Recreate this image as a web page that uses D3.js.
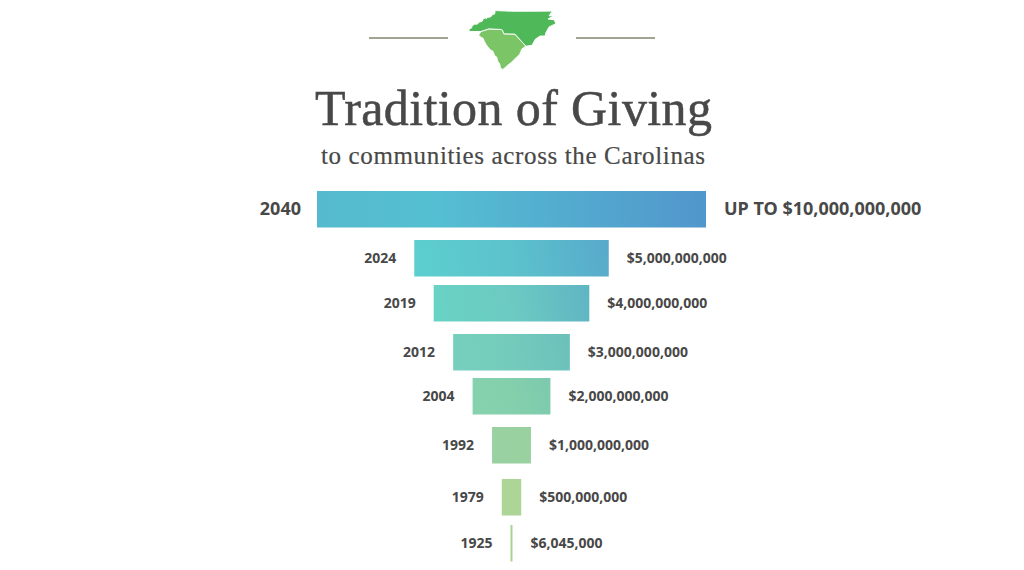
<!DOCTYPE html>
<html>
<head>
<meta charset="utf-8">
<script src="https://cdn.jsdelivr.net/npm/d3@7"></script>
<style>
  html, body { margin: 0; padding: 0; background: #fff; }
  svg { display: block; }
  text { fill: #484848; }
</style>
</head>
<body>
<div id="chart"></div>
<script>
const years = ["2040", "2024", "2019", "2012", "2004", "1992", "1979", "1925"];
const amounts = [10000000000, 5000000000, 4000000000, 3000000000, 2000000000, 1000000000, 500000000, 6045000];
const amountLabels = ["UP TO $10,000,000,000", "$5,000,000,000", "$4,000,000,000", "$3,000,000,000",
  "$2,000,000,000", "$1,000,000,000", "$500,000,000", "$6,045,000"];

// rough state outlines, lon/lat
const northCarolina = [[-84.32,34.99],[-84.29,35.21],[-84.05,35.27],[-84.02,35.41],[-83.77,35.56],[-83.5,35.56],
  [-83.25,35.72],[-82.99,35.77],[-82.9,35.94],[-82.67,36.04],[-82.59,35.97],[-82.41,36.08],[-82.13,36.11],
  [-81.92,36.29],[-81.71,36.34],[-81.68,36.59],[-80,36.54],[-78,36.54],[-75.87,36.55],[-76.2,36.2],[-75.75,36.2],
  [-76.3,35.95],[-75.7,35.9],[-75.5,35.6],[-76.2,35.35],[-76.53,34.9],[-76.6,34.65],[-77.1,34.65],[-77.6,34.4],
  [-77.93,33.93],[-78.55,33.86],[-79.67,34.8],[-80.78,34.82],[-80.93,35.1],[-81.04,35.15],[-82.3,35.2],
  [-83.11,35],[-84.32,34.99]];
const southCarolina = [[-83.11,35],[-82.3,35.2],[-81.04,35.15],[-80.93,35.1],[-80.78,34.82],[-79.67,34.8],
  [-78.55,33.86],[-78.95,33.65],[-79.2,33.2],[-79.5,33],[-80,32.6],[-80.45,32.33],[-80.87,32.03],[-81.12,32.11],
  [-81.2,32.45],[-81.42,32.7],[-81.5,33],[-81.7,33.1],[-81.9,33.47],[-82.2,33.6],[-82.56,33.95],[-82.74,34.2],
  [-82.9,34.48],[-83.07,34.54],[-83.35,34.7],[-83.11,35]];

const width = 1024, height = 570, centerX = 511.5, barH = 36.5;

const svg = d3.select("#chart").append("svg")
  .attr("width", width)
  .attr("height", height)
  .attr("viewBox", [0, 0, width, height]);

const x = d3.scaleLinear().domain([0, d3.max(amounts)]).range([0, 389]);
const y = d3.scaleOrdinal().domain(years).range([191, 240, 285, 334, 378, 427, 479, 525]);
const barW = v => Math.max(x(v), 2);
const rows = years.map((year, i) => ({ year, amount: amounts[i], label: amountLabels[i], big: i === 0, i }));

// left / middle / right colour of each bar
const barStops = [
  ["#55bacd", "#55bfd2", "#5196cc"],
  ["#5ccfcf", "#5cc2cc", "#58aacb"],
  ["#68d3c4", "#6ccac2", "#60b5c3"],
  ["#76d0bd", "#74cbbb", "#6cc0bb"],
  ["#86d2ae", "#84d0ac", "#7cc9ae"],
  ["#9ad1a3", "#9ad1a1", "#98d09f"],
  ["#aed598", "#aed598", "#aed598"],
  ["#a9d38e", "#a9d38e", "#a9d38e"]
];
const grads = svg.append("defs").selectAll("linearGradient")
  .data(rows)
  .join("linearGradient")
  .attr("id", d => "bar" + d.i)
  .attr("gradientUnits", "userSpaceOnUse")
  .attr("x1", d => centerX - barW(d.amount) / 2)
  .attr("x2", d => centerX + barW(d.amount) / 2)
  .attr("y1", d => y(d.year) + barH / 2 + 12)
  .attr("y2", d => y(d.year) + barH / 2 - 12);
grads.selectAll("stop")
  .data(d => [[0, barStops[d.i][0]], [d.i === 0 ? 0.3 : 0.5, barStops[d.i][1]], [1, barStops[d.i][2]]])
  .join("stop")
  .attr("offset", d => d[0])
  .attr("stop-color", d => d[1]);

// state icon
const states = [
  { coords: southCarolina, fill: "#7cc566" },
  { coords: northCarolina, fill: "#4fb858" }
].map(s => ({ type: "Feature", fill: s.fill, geometry: { type: "Polygon", coordinates: [s.coords] } }));
const projection = d3.geoMercator()
  .fitExtent([[469, 11], [556, 69]], { type: "FeatureCollection", features: states });
svg.append("g")
  .attr("transform", "translate(0,40) scale(1,1.08) translate(0,-40)")
  .selectAll("path")
  .data(states)
  .join("path")
  .attr("d", d3.geoPath(projection))
  .attr("fill", d => d.fill)
  .attr("stroke", "#fff")
  .attr("stroke-width", 0.9);

svg.selectAll("line.rule")
  .data([[369, 448], [576, 655]])
  .join("line")
  .attr("class", "rule")
  .attr("x1", d => d[0]).attr("x2", d => d[1])
  .attr("y1", 38).attr("y2", 38)
  .attr("stroke", "#85856f")
  .attr("stroke-width", 1.4);

svg.append("text")
  .attr("x", 513.5).attr("y", 125)
  .attr("text-anchor", "middle")
  .attr("textLength", 397)
  .style("font", "50px 'Liberation Serif'")
  .style("stroke", "#484848")
  .style("stroke-width", 0.5)
  .text("Tradition of Giving");

svg.append("text")
  .attr("x", 513).attr("y", 164)
  .attr("text-anchor", "middle")
  .attr("textLength", 384)
  .style("font", "25px 'Liberation Serif'")
  .style("stroke", "#484848")
  .style("stroke-width", 0.2)
  .text("to communities across the Carolinas");

// bars
svg.append("g").selectAll("rect")
  .data(rows)
  .join("rect")
  .attr("x", d => centerX - barW(d.amount) / 2)
  .attr("y", d => y(d.year))
  .attr("width", d => barW(d.amount))
  .attr("height", barH)
  .attr("fill", d => d.i === 7 ? barStops[7][0] : `url(#bar${d.i})`);

const labelFont = d => `700 ${d.big ? 18 : 14}px 'Noto Sans'`;

svg.append("g").selectAll("text")
  .data(rows)
  .join("text")
  .attr("x", d => centerX - barW(d.amount) / 2 - (d.big ? 16 : 18))
  .attr("y", d => y(d.year) + 18)
  .attr("dy", "0.36em")
  .attr("text-anchor", "end")
  .style("font", labelFont)
  .text(d => d.year);

svg.append("g").selectAll("text")
  .data(rows)
  .join("text")
  .attr("x", d => centerX + barW(d.amount) / 2 + 18)
  .attr("y", d => y(d.year) + 18)
  .attr("dy", "0.36em")
  .style("font", labelFont)
  .text(d => d.label);
</script>
</body>
</html>
